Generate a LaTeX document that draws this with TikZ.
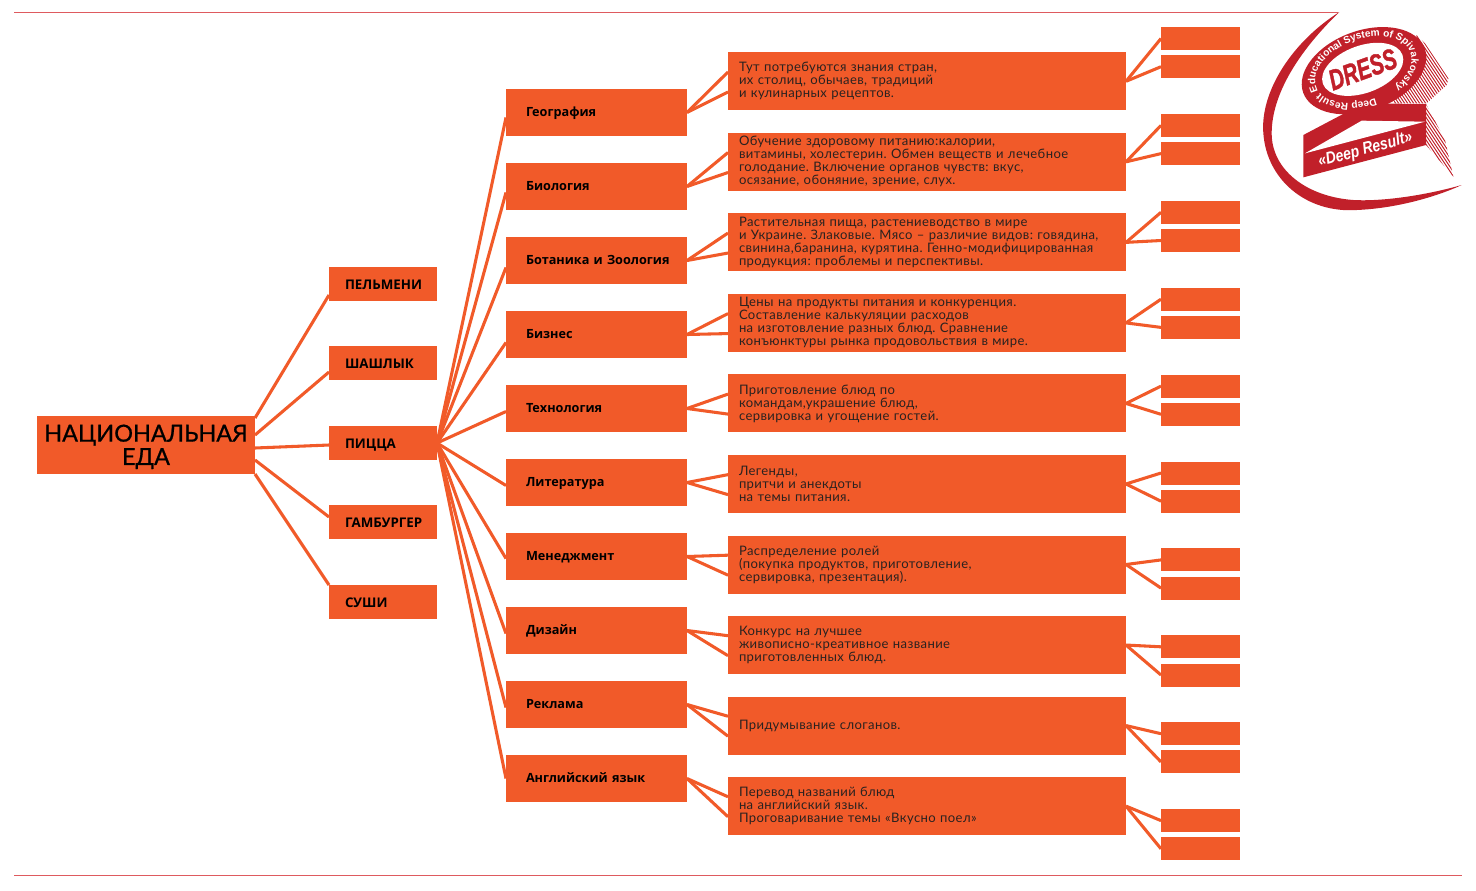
\documentclass[tikz,border=0pt]{standalone}
\usepackage{fontspec}
\setmainfont{Lato}
\newfontfamily\labelfont{Open Sans}
\newfontfamily\logofont{Liberation Sans}
\usepackage{tikz}
\usetikzlibrary{positioning,calc,shapes.geometric,decorations.text}
\definecolor{boxorange}{HTML}{F15A29}
\definecolor{logored}{HTML}{C1202A}
\definecolor{rulered}{HTML}{DE5A5F}
\definecolor{inktext}{HTML}{2A2220}

\begin{document}
\frenchspacing
\begin{tikzpicture}[
  x=0.75pt, y=-0.75pt,
  every node/.style={outer sep=0pt},
  root/.style={fill=boxorange, inner sep=0pt, align=center, text width=163.5pt, minimum height=43.5pt,
    font=\fontsize{17.6}{17.5}\selectfont\addfontfeature{FakeBold=0.8}\color{black}},
  dish/.style={fill=boxorange, inner sep=0pt, inner xsep=12pt, text width=57pt, align=left, minimum height=25.5pt,
    text height=8.5pt, text depth=0pt, font=\labelfont\bfseries\fontsize{10}{12}\selectfont\color{black}},
  subject/.style={fill=boxorange, inner sep=0pt, inner xsep=15pt, text width=105.75pt, align=left, minimum height=35.25pt,
    text height=7pt, text depth=0.5pt, font=\labelfont\bfseries\fontsize{9.5}{12}\selectfont\color{black}},
  task/.style={fill=boxorange, inner sep=0pt, inner xsep=8.25pt, text width=282pt, align=left, minimum height=43.5pt,
    font=\fontsize{9.8}{9.75}\selectfont\addfontfeature{LetterSpace=3}\color{inktext}},
  leaf/.style={fill=boxorange, inner sep=0pt, minimum width=59.25pt, minimum height=17.25pt},
  link/.style={draw=boxorange, line width=2.3pt},
  rulerline/.style={draw=rulered, line width=0.6pt}
]
\useasboundingbox (0,0) rectangle (1476,890);

% frame lines
\coordinate (ruleA) at (14,12);
\coordinate (ruleB) at (1338,12);
\coordinate (ruleC) at (14,875);
\coordinate (ruleD) at (1462,875);
\draw[rulerline] (ruleA) -- (ruleB);
\draw[rulerline] (ruleC) -- (ruleD);

% left part
\node[root] (food) at (146,445) {\rule{0pt}{15.5pt}НАЦИОНАЛЬНАЯ\\ЕДА};
\node[dish] (pelmeni) at (383,284) {ПЕЛЬМЕНИ};
\node[dish, below=33.75pt of pelmeni] (shashlik) {ШАШЛЫК};
\node[dish, below=34.5pt of shashlik] (pizza) {ПИЦЦА};
\node[dish, below=33.75pt of pizza] (burger) {ГАМБУРГЕР};
\node[dish, below=34.5pt of burger] (sushi) {СУШИ};

% subjects
\node[subject] (geo) at (596.5,112.5) {География};
\node[subject, below=20.25pt of geo] (bio) {Биология};
\node[subject, below=20.25pt of bio] (bot) {\mbox{Ботаника и Зоология}};
\node[subject, below=20.25pt of bot] (biz) {Бизнес};
\node[subject, below=20.25pt of biz] (tech) {Технология};
\node[subject, below=20.25pt of tech] (lit) {Литература};
\node[subject, below=20.25pt of lit] (mgmt) {Менеджмент};
\node[subject, below=20.25pt of mgmt] (design) {Дизайн};
\node[subject, below=20.25pt of design] (ads) {Реклама};
\node[subject, below=20.25pt of ads] (eng) {Английский язык};

% tasks
\node[task] (geoT) at (927,81.3) {Тут потребуются знания стран,\\их столиц, обычаев, традиций\\и кулинарных рецептов.};
\node[task, below=16.9pt of geoT] (bioT) {Обучение здоровому питанию:калории,\\витамины, холестерин. Обмен веществ и лечебное\\голодание. Включение органов чувств: вкус,\\осязание, обоняние, зрение, слух.};
\node[task, below=16.9pt of bioT] (botT) {Растительная пища, растениеводство в мире\\и Украине. Злаковые. Мясо – различие видов: говядина,\\свинина,баранина, курятина. Генно-модифицированная\\продукция: проблемы и перспективы.};
\node[task, below=16.9pt of botT] (bizT) {Цены на продукты питания и конкуренция.\\Составление калькуляции расходов\\на изготовление разных блюд. Сравнение\\конъюнктуры рынка продовольствия в мире.};
\node[task, below=16.9pt of bizT] (techT) {Приготовление блюд по\\командам,украшение блюд,\\сервировка и угощение гостей.};
\node[task, below=16.9pt of techT] (litT) {Легенды,\\притчи и анекдоты\\на темы питания.};
\node[task, below=16.9pt of litT] (mgmtT) {Распределение ролей\\(покупка продуктов, приготовление,\\сервировка, презентация).};
\node[task, below=16.9pt of mgmtT] (designT) {Конкурс на лучшее\\живописно-креативное название\\приготовленных блюд.};
\node[task, below=16.9pt of designT] (adsT) {Придумывание слоганов.};
\node[task, below=16.9pt of adsT] (engT) {Перевод названий блюд\\на английский язык.\\Проговаривание темы «Вкусно поел»};

% empty boxes on the right
\foreach \i in {1,...,10} {
  \node[leaf] (leaf\i a) at (1200.5,{38.5+86.9*(\i-1)}) {};
  \node[leaf, below=3.9pt of leaf\i a] (leaf\i b) {};
}

\draw[link] ([yshift=20.25pt]food.east) -- ([yshift=-8.25pt]pelmeni.west);
\draw[link] ([yshift=7.5pt]food.east) -- ([yshift=-6.75pt]shashlik.west);
\draw[link] ([yshift=-2.25pt]food.east) -- ([yshift=-1.5pt]pizza.west);
\draw[link] ([yshift=-11.25pt]food.east) -- ([yshift=3.75pt]burger.west);
\draw[link] (food.south east) -- (sushi.north west);

\foreach \sub/\shift in {geo/3.75pt,bio/4.5pt,bot/5.25pt,biz/6pt,tech/2.25pt,lit/2.25pt,mgmt/1.5pt,design/2.25pt,ads/2.25pt,eng/0pt} {
  \draw[link] (pizza.east) -- ([yshift=-\shift]\sub.west);
}
\foreach \sub in {geo,bio,bot,biz,tech,lit,mgmt,design,ads,eng} {
  \draw[link] (\sub.east) -- ([yshift=7pt]\sub T.west);
  \draw[link] (\sub.east) -- ([yshift=-8pt]\sub T.west);
}
\foreach \sub [count=\i] in {geo,bio,bot,biz,tech,lit,mgmt,design,ads,eng} {
  \draw[link] (\sub T.east) -- (leaf\i a.west);
  \draw[link] (\sub T.east) -- (leaf\i b.west);
}

% logo
\begin{scope}[shift={(1240,0)}, x=0.25pt, y=-0.25pt]
  \fill[logored] (298,36) .. controls (150,130) and (60,280) .. (70,400)
    .. controls (80,540) and (200,640) .. (350,630)
    .. controls (470,625) and (590,590) .. (665,555)
    .. controls (560,585) and (430,605) .. (340,600)
    .. controls (200,590) and (95,510) .. (95,400)
    .. controls (95,280) and (180,150) .. (298,36) -- cycle;
  \begin{scope}
    \clip (530,105) -- (555,130) -- (625,235) -- (620,255) -- (560,310) -- (460,310) -- cycle
      (558,312) -- (615,420) -- (640,530) -- (558,435) -- cycle;
    \foreach \s in {300,309,...,570} {
      \draw[logored, line width=0.75pt] (\s,100) -- ({\s+300},550);
    }
  \end{scope}
  \fill[logored] (190,405) -- (370,310) -- (558,312) -- (558,435) -- (190,532) -- cycle;
  \fill[white] (195,460) -- (365,362) -- (555,365) -- cycle;
  \node[ellipse, fill=logored, inner sep=0pt, minimum width=97pt, minimum height=60pt, rotate=20] (ring) at (372,212) {};
  \node[ellipse, fill=white, inner sep=0pt, minimum width=63.5pt, minimum height=35.5pt, rotate=20] (hole) at (368,208) {};
  \node[rotate=20, text=logored, font=\logofont\bfseries\itshape\fontsize{18}{18}\selectfont\addfontfeature{FakeBold=1.5}] (dress) at (hole) {\scalebox{0.85}[1.2]{DRESS}};
  \path[decorate, decoration={text along path, text align=center,
      text={|\logofont\bfseries\fontsize{7.6}{8}\selectfont\color{white}|Deep Result Educational System of Spivakovsky}}]
    plot[domain=85:425, samples=60]
      ({370+150*cos(\x)*cos(20)+92*sin(\x)*sin(20)},{210-150*cos(\x)*sin(20)+92*sin(\x)*cos(20)});
  \node[rotate=15, text=white, font=\logofont\bfseries\itshape\fontsize{10.5}{11}\selectfont] (motto) at (376,450) {\scalebox{1}[1.2]{«Deep Result»}};
\end{scope}
\end{tikzpicture}
\end{document}
